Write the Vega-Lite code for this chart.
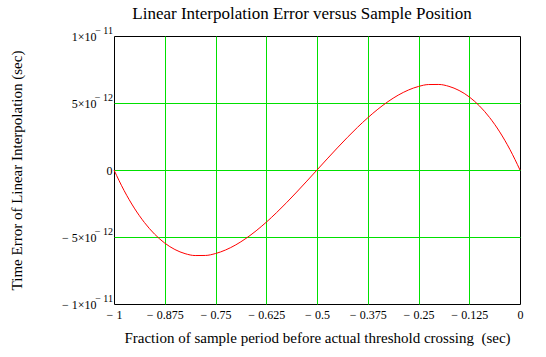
{
  "$schema": "https://vega.github.io/schema/vega-lite/v6.json",
  "width": 406,
  "height": 268,
  "autosize": {"type": "none"},
  "padding": {"left": 114, "top": 36, "right": 26, "bottom": 53},
  "background": "white",
  "title": {
    "text": "Linear Interpolation Error versus Sample Position",
    "font": "Liberation Serif, Times New Roman, serif",
    "fontSize": 17,
    "fontWeight": "normal",
    "color": "black",
    "offset": 3,
    "dx": -15
  },
  "config": {
    "view": {"stroke": "black", "strokeWidth": 1},
    "axis": {
      "labelFont": "Liberation Serif, Times New Roman, serif",
      "titleFont": "Liberation Serif, Times New Roman, serif",
      "labelColor": "black",
      "titleColor": "black",
      "labelFontSize": 12,
      "titleFontSize": 15,
      "titleFontWeight": "normal",
      "domain": false,
      "ticks": false,
      "grid": true,
      "gridWidth": 1,
      "gridOpacity": 1
    }
  },
  "layer": [
    {
      "data": {
        "values": [
          {"x": -1, "y": 0},
          {"x": -0.975, "y": -1.540e-12},
          {"x": -0.95, "y": -2.843e-12},
          {"x": -0.925, "y": -3.921e-12},
          {"x": -0.9, "y": -4.788e-12},
          {"x": -0.875, "y": -5.455e-12},
          {"x": -0.85, "y": -5.935e-12},
          {"x": -0.825, "y": -6.241e-12},
          {"x": -0.8, "y": -6.384e-12},
          {"x": -0.775, "y": -6.378e-12},
          {"x": -0.75, "y": -6.234e-12},
          {"x": -0.725, "y": -5.966e-12},
          {"x": -0.7, "y": -5.586e-12},
          {"x": -0.675, "y": -5.106e-12},
          {"x": -0.65, "y": -4.539e-12},
          {"x": -0.625, "y": -3.896e-12},
          {"x": -0.6, "y": -3.192e-12},
          {"x": -0.575, "y": -2.438e-12},
          {"x": -0.55, "y": -1.646e-12},
          {"x": -0.525, "y": -0.829e-12},
          {"x": -0.5, "y": 0},
          {"x": -0.475, "y": 0.829e-12},
          {"x": -0.45, "y": 1.646e-12},
          {"x": -0.425, "y": 2.438e-12},
          {"x": -0.4, "y": 3.192e-12},
          {"x": -0.375, "y": 3.896e-12},
          {"x": -0.35, "y": 4.539e-12},
          {"x": -0.325, "y": 5.106e-12},
          {"x": -0.3, "y": 5.586e-12},
          {"x": -0.275, "y": 5.966e-12},
          {"x": -0.25, "y": 6.234e-12},
          {"x": -0.225, "y": 6.378e-12},
          {"x": -0.2, "y": 6.384e-12},
          {"x": -0.175, "y": 6.241e-12},
          {"x": -0.15, "y": 5.935e-12},
          {"x": -0.125, "y": 5.455e-12},
          {"x": -0.1, "y": 4.788e-12},
          {"x": -0.075, "y": 3.921e-12},
          {"x": -0.05, "y": 2.843e-12},
          {"x": -0.025, "y": 1.540e-12},
          {"x": 0, "y": 0}
        ]
      },
      "mark": {"type": "line", "color": "#ff0000", "strokeWidth": 1, "interpolate": "monotone"},
      "encoding": {
        "x": {
          "field": "x",
          "type": "quantitative",
          "scale": {"domain": [-1, 0], "nice": false, "zero": false},
          "axis": {
            "values": [-1, -0.875, -0.75, -0.625, -0.5, -0.375, -0.25, -0.125, 0],
            "labelExpr": "datum.value == 0 ? '0' : '\u2212 ' + (-datum.value)",
            "labelPadding": 5,
            "labelFlush": false,
            "gridColor": {"condition": {"test": "datum.value == 0 || datum.value == -1", "value": "transparent"}, "value": "#00e000"},
            "title": "Fraction of sample period before actual threshold crossing \u00a0(sec)",
            "titlePadding": 10
          }
        },
        "y": {
          "field": "y",
          "type": "quantitative",
          "scale": {"domain": [-1e-11, 1e-11], "nice": false},
          "axis": {
            "values": [-1e-11, -5e-12, 0, 5e-12, 1e-11],
            "labelExpr": "datum.value > 7e-12 ? '1×10' : datum.value > 1e-12 ? '5×10' : datum.value < -7e-12 ? '\u2212 1×10' : datum.value < -1e-12 ? '\u2212 5×10' : '0'",
            "labelPadding": {"condition": {"test": "datum.value == 0", "value": 2}, "value": 18},
            "labelFlush": false,
            "gridColor": {"condition": {"test": "abs(datum.value) > 7e-12", "value": "transparent"}, "value": "#00e000"},
            "title": "Time Error of Linear Interpolation (sec)",
            "titlePadding": 37
          }
        }
      }
    },
    {
      "data": {
        "values": [
          {"v": 1e-11, "e": "\u2212 11"},
          {"v": 5e-12, "e": "\u2212 12"},
          {"v": -5e-12, "e": "\u2212 12"},
          {"v": -1e-11, "e": "\u2212 11"}
        ]
      },
      "mark": {"type": "text", "font": "Liberation Serif, Times New Roman, serif", "fontSize": 10, "color": "black", "align": "right", "baseline": "middle", "dx": -1, "dy": -5},
      "encoding": {
        "x": {"datum": -1, "type": "quantitative"},
        "y": {"field": "v", "type": "quantitative"},
        "text": {"field": "e", "type": "nominal"}
      }
    }
  ]
}
